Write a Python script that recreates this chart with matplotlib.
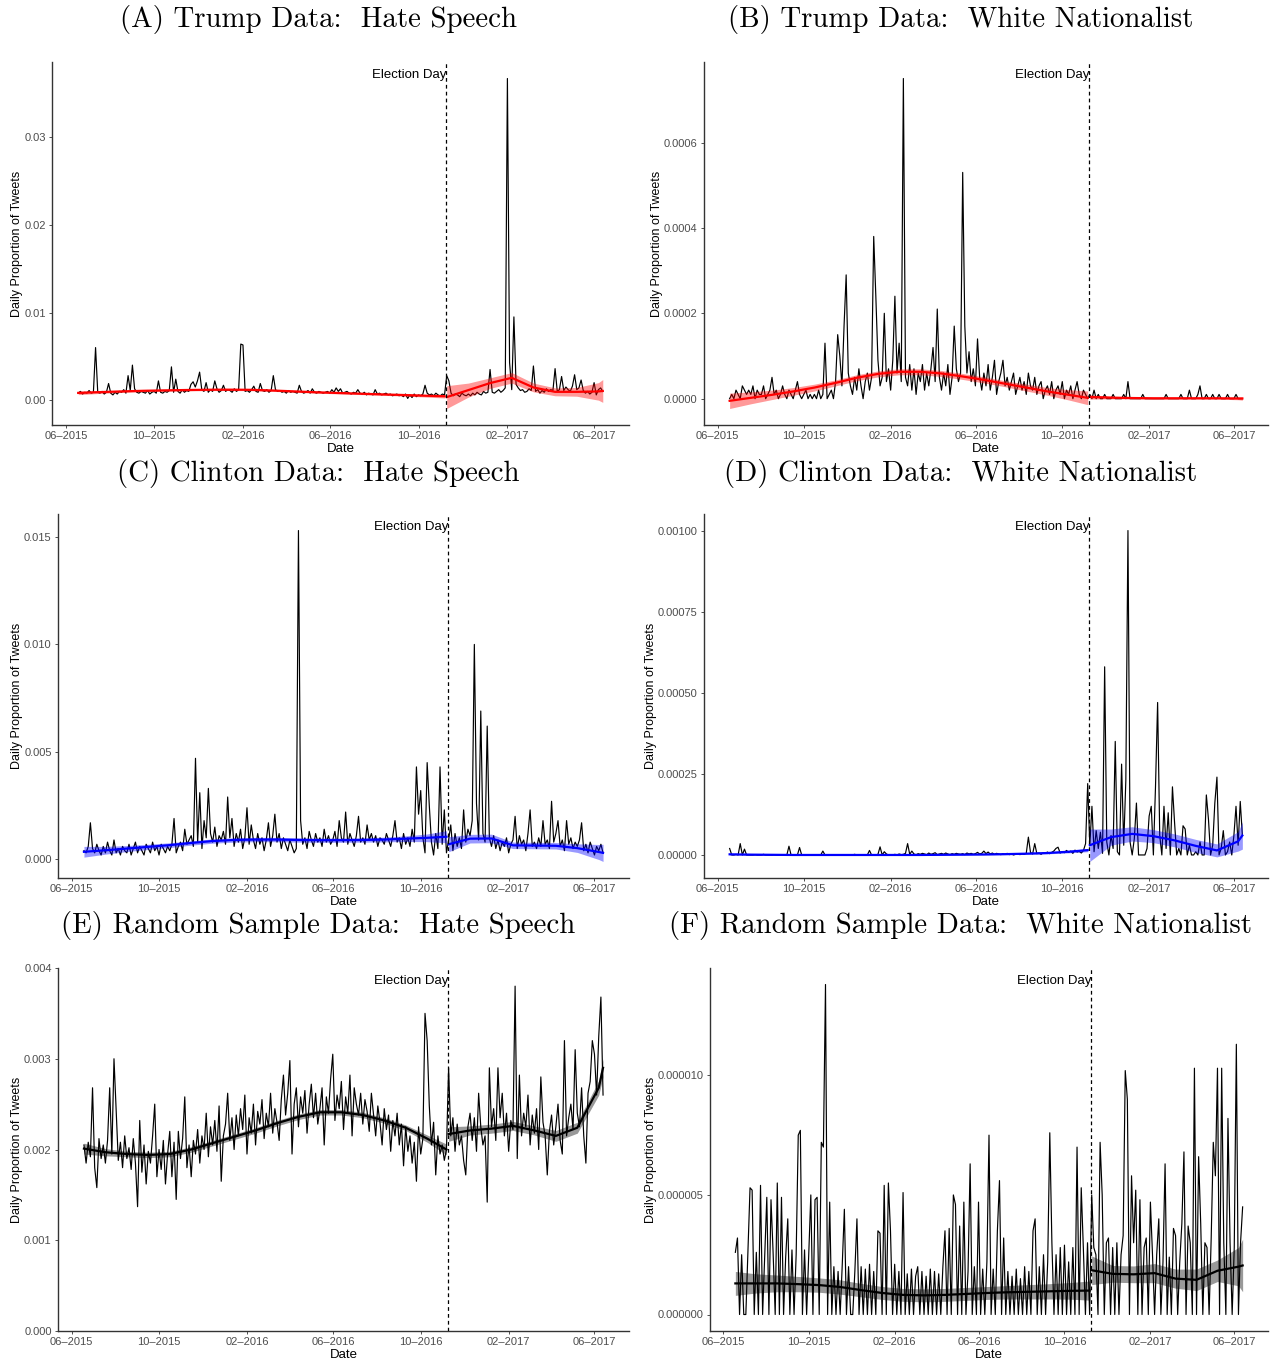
import numpy as np
import matplotlib
matplotlib.use('Agg')
import matplotlib.pyplot as plt
import matplotlib.dates as mdates

plt.rcParams['font.family'] = ['Liberation Sans', 'DejaVu Sans']

# one value every third day, 2015-06-18 .. 2017-06-13
dates = np.datetime64('2015-06-18') + np.arange(243) * 3
election = np.datetime64('2016-11-08')

# smoother knots (index into dates), fitted separately before / after the election
pre_knots = [0, 10, 20, 30, 40, 50, 60, 70, 80, 90, 100, 110, 120, 130, 140, 150, 160, 169]
post_knots = [170, 180, 190, 200, 210, 220, 230, 240, 242]

# (A) Trump hate speech, units of 1e-4
trump_hate = [
    8, 10, 7, 9, 8, 11, 8, 9, 60, 9,
    8, 10, 7, 9, 19, 8, 6, 9, 7, 10,
    9, 12, 8, 28, 11, 40, 13, 9, 8, 10,
    9, 8, 11, 7, 9, 10, 8, 22, 9, 8,
    10, 9, 11, 38, 9, 24, 10, 8, 12, 9,
    11, 10, 18, 21, 15, 22, 32, 12, 10, 20,
    9, 12, 10, 22, 13, 9, 11, 17, 10, 12,
    11, 9, 13, 10, 12, 64, 63, 10, 11, 9,
    12, 16, 10, 9, 19, 11, 10, 12, 9, 11,
    28, 12, 10, 11, 9, 10, 8, 11, 9, 10,
    9, 8, 17, 10, 8, 9, 11, 8, 13, 9,
    8, 10, 9, 8, 9, 10, 8, 12, 9, 14,
    10, 13, 8, 9, 10, 8, 7, 9, 8, 12,
    8, 7, 9, 6, 8, 7, 6, 12, 7, 8,
    6, 7, 8, 6, 7, 5, 6, 7, 5, 6,
    4, 7, 2, 6, 3, 7, 4, 6, 5, 7,
    17, 8, 6, 7, 5, 8, 6, 5, 7, 6,
    28, 22, 8, 5, 7, 6, 4, 8, 6, 5,
    7, 5, 8, 6, 9, 7, 6, 10, 8, 9,
    35, 9, 8, 10, 12, 9, 11, 14, 367, 43,
    12, 95, 18, 14, 11, 12, 9, 10, 13, 11,
    39, 10, 12, 8, 11, 9, 13, 10, 12, 11,
    36, 10, 12, 27, 11, 15, 12, 10, 16, 29,
    12, 14, 23, 11, 8, 10, 7, 9, 20, 6,
    12, 14, 10]
trump_hate_pre = [8.3, 9.2, 10, 10.7, 11.2, 11.6, 11.9, 12, 11.8, 11, 10, 9, 8.2, 7.4, 6.6, 5.9, 5.1, 4.5]
trump_hate_pre_se = [2, 1.5, 1.2, 1, 1, 1, 1, 1, 1, 1, 1, 1, 1, 1, 1, 1.2, 1.5, 2]
trump_hate_post = [3.5, 11.5, 19.5, 25.5, 14.5, 9.5, 9.5, 10, 10.5]
trump_hate_post_se = [13, 8, 6, 6, 5, 4.5, 5, 10, 13]

# (B) Trump white nationalist, units of 1e-5
trump_wn = [
    0, 1, 0, 2, 1, 0, 3, 2, 1, 2,
    1, 3, 0, 2, 1, 1, 3, 0, 1, 2,
    5, 1, 2, 0, 1, 3, 1, 0, 2, 1,
    0, 2, 4, 1, 0, 1, 2, 0, 1, 0,
    1, 0, 2, 0, 1, 13, 0, 1, 2, 0,
    4, 15, 10, 3, 17, 29, 6, 3, 1, 5,
    2, 7, 3, 0, 4, 6, 2, 5, 38, 24,
    9, 3, 5, 20, 4, 7, 2, 9, 24, 6,
    13, 4, 75, 5, 3, 8, 2, 7, 1, 6,
    4, 8, 2, 6, 3, 7, 12, 4, 21, 5,
    2, 6, 3, 8, 1, 5, 17, 7, 4, 6,
    53, 17, 6, 11, 4, 7, 3, 14, 5, 2,
    6, 3, 8, 2, 5, 9, 1, 4, 6, 9,
    3, 5, 2, 4, 6, 1, 3, 5, 2, 4,
    1, 6, 3, 2, 5, 1, 3, 4, 0, 2,
    3, 1, 4, 0, 2, 3, 1, 4, 0, 2,
    1, 3, 0, 2, 4, 1, 0, 2, 1, 0,
    1, 0, 2, 0, 1, 0, 0, 1, 0, 0,
    0, 1, 0, 0, 0, 0, 1, 0, 4, 0,
    0, 0, 0, 0, 0, 1, 0, 0, 0, 0,
    0, 0, 0, 0, 0, 0, 1, 0, 0, 0,
    0, 0, 0, 1, 0, 0, 0, 2, 0, 0,
    0, 1, 3, 0, 0, 1, 0, 0, 1, 0,
    0, 1, 0, 0, 0, 1, 0, 0, 0, 1,
    0, 0, 0]
trump_wn_pre = [-0.5, 0.2, 0.9, 1.7, 2.6, 3.7, 4.9, 5.8, 6.3, 6.3, 5.9, 5.2, 4.4, 3.5, 2.6, 1.7, 0.9, 0.2]
trump_wn_pre_se = [1.8, 1.4, 1.1, 0.9, 0.8, 0.7, 0.7, 0.7, 0.7, 0.7, 0.7, 0.7, 0.7, 0.7, 0.8, 0.9, 1.2, 1.6]
trump_wn_post = [0.4, 0.25, 0.15, 0.1, 0.1, 0.1, 0.1, 0.05, 0.05]
trump_wn_post_se = [0.5, 0.3, 0.2, 0.2, 0.2, 0.2, 0.2, 0.3, 0.4]

# (C) Clinton hate speech, units of 1e-4
clinton_hate = [
    4, 3, 6, 17, 5, 3, 7, 4, 2, 6,
    3, 8, 4, 2, 9, 3, 5, 2, 6, 4,
    3, 7, 2, 5, 8, 3, 6, 4, 2, 7,
    5, 3, 8, 4, 6, 2, 7, 5, 3, 6,
    4, 7, 19, 3, 6, 8, 4, 14, 7, 9,
    11, 6, 47, 8, 31, 5, 18, 10, 33, 12,
    8, 15, 6, 11, 9, 13, 7, 29, 10, 19,
    6, 12, 8, 14, 5, 10, 24, 7, 16, 9,
    5, 12, 7, 10, 4, 9, 17, 6, 11, 21,
    8, 12, 5, 10, 7, 4, 9, 6, 3, 5,
    153, 18, 7, 10, 5, 13, 9, 6, 12, 8,
    10, 6, 14, 8, 11, 7, 9, 13, 6, 18,
    10, 8, 22, 7, 12, 9, 6, 11, 20, 8,
    10, 7, 16, 9, 12, 8, 11, 6, 10, 9,
    7, 12, 9, 6, 11, 18, 8, 10, 5, 12,
    7, 10, 6, 14, 8, 43, 21, 32, 10, 3,
    45, 25, 8, 2, 12, 5, 43, 7, 23, 3,
    9, 16, 4, 12, 6, 10, 5, 23, 8, 14,
    11, 18, 100, 26, 9, 69, 12, 8, 62, 10,
    6, 11, 5, 9, 4, 8, 6, 10, 3, 7,
    9, 20, 5, 11, 7, 9, 4, 12, 23, 6,
    8, 5, 10, 6, 18, 7, 9, 5, 27, 8,
    12, 18, 6, 9, 4, 18, 7, 10, 5, 8,
    6, 9, 17, 4, 7, 3, 8, 5, 2, 6,
    4, 7, 3]
clinton_hate_pre = [3.5, 4.2, 5.0, 5.8, 6.6, 7.6, 8.5, 9.0, 9.2, 9.2, 9.0, 8.9, 8.9, 9.0, 9.2, 9.6, 10.0, 10.5]
clinton_hate_pre_se = [2.5, 1.8, 1.4, 1.2, 1.1, 1.0, 1.0, 1.0, 1.0, 1.0, 1.0, 1.0, 1.0, 1.0, 1.1, 1.3, 1.8, 2.8]
clinton_hate_post = [7.0, 9.6, 9.7, 6.5, 6.4, 6.3, 5.2, 3.4, 3.0]
clinton_hate_post_se = [3.5, 2.0, 2.0, 1.5, 1.5, 1.5, 2.0, 3.5, 4.0]

# (D) Clinton white nationalist, units of 1e-6
clinton_wn = [
    20, 0, 0, 2, 0, 35, 0, 18, 0, 0,
    0, 0, 1, 0, 0, 0, 2, 0, 0, 0,
    0, 1, 0, 0, 0, 0, 0, 0, 27, 0,
    0, 0, 0, 23, 0, 0, 0, 1, 0, 0,
    0, 0, 0, 0, 12, 0, 0, 0, 1, 0,
    0, 0, 0, 0, 1, 0, 0, 0, 0, 2,
    0, 0, 0, 1, 0, 0, 14, 0, 0, 0,
    2, 25, 0, 10, 3, 0, 1, 0, 2, 0,
    3, 1, 2, 5, 35, 2, 12, 3, 1, 4,
    2, 5, 3, 1, 6, 2, 4, 7, 1, 3,
    5, 2, 6, 3, 1, 4, 2, 5, 3, 2,
    4, 1, 6, 3, 5, 2, 4, 8, 3, 5,
    12, 4, 9, 3, 6, 2, 5, 3, 1, 4,
    2, 5, 1, 3, 0, 2, 4, 1, 3, 2,
    5, 55, 8, 3, 35, 4, 6, 2, 7, 5,
    9, 4, 8, 12, 20, 24, 6, 10, 7, 14,
    8, 12, 5, 15, 9, 11, 6, 14, 35, 220,
    30, 150, 10, 75, 20, 70, 5, 580, 40, 0,
    60, 20, 350, 10, 0, 280, 30, 230, 1000, 40,
    0, 50, 160, 0, 0, 0, 0, 20, 120, 150,
    0, 210, 470, 60, 0, 150, 20, 130, 0, 210,
    100, 0, 20, 0, 90, 80, 0, 30, 0, 0,
    10, 0, 40, 0, 0, 185, 110, 0, 30, 160,
    240, 0, 20, 75, 0, 10, 40, 0, 60, 150,
    30, 165, 60]
clinton_wn_pre = [2, 1, 0.5, 0, 0, 0, 0, 0, 0, 0, 0.5, 1, 1.5, 2.5, 4, 6, 10, 15]
clinton_wn_pre_se = [2, 1.5, 1, 1, 1, 1, 1, 1, 1, 1, 1, 1, 1, 1.5, 2, 2.5, 3.5, 5]
clinton_wn_post = [30, 55, 65, 58, 45, 28, 14, 42, 60]
clinton_wn_post_se = [50, 25, 22, 20, 20, 20, 20, 30, 42]

# (E) random sample hate speech, units of 1e-5
random_hate = [
    205, 185, 208, 192, 268, 180, 158, 212, 190, 205,
    185, 210, 268, 195, 300, 245, 188, 208, 180, 215,
    190, 202, 178, 212, 185, 137, 232, 175, 205, 162,
    198, 185, 215, 250, 170, 200, 178, 210, 162, 195,
    220, 170, 208, 145, 220, 190, 212, 258, 180, 205,
    170, 210, 195, 222, 185, 215, 200, 240, 192, 225,
    205, 232, 198, 248, 165, 215, 228, 262, 210, 235,
    200, 238, 215, 245, 222, 260, 195, 235, 218, 250,
    205, 242, 228, 255, 212, 240, 225, 262, 218, 245,
    230, 210, 255, 282, 238, 262, 298, 195, 250, 268,
    225, 258, 240, 265, 218, 250, 272, 235, 262, 228,
    245, 268, 205, 258, 240, 278, 305, 232, 260, 245,
    275, 222, 258, 240, 282, 215, 268, 250, 238, 262,
    228, 255, 242, 220, 262, 238, 215, 248, 230, 205,
    245, 222, 238, 198, 232, 215, 240, 205, 228, 182,
    225, 198, 215, 185, 208, 165, 225, 195, 212, 350,
    320, 248, 205, 230, 172, 215, 195, 205, 188, 200,
    290, 215, 235, 198, 228, 205, 215, 188, 172, 225,
    240, 210, 235, 198, 262, 225, 205, 215, 142, 290,
    225, 245, 210, 290, 235, 262, 215, 240, 198, 232,
    222, 380, 190, 282, 215, 240, 225, 260, 205, 238,
    218, 245, 200, 280, 230, 215, 172, 220, 238, 205,
    225, 250, 210, 195, 320, 215, 235, 250, 222, 310,
    240, 225, 268, 215, 185, 262, 275, 320, 305, 260,
    325, 368, 260]
random_hate_pre = [201, 197, 195, 194, 195, 200, 207, 214, 221, 229, 236, 241, 241, 238, 232, 224, 212, 200]
random_hate_pre_se = [6, 4, 3, 3, 3, 3, 3, 3, 3, 3, 3, 3, 3, 3, 3, 3, 4, 6]
random_hate_post = [217, 221, 223, 226, 221, 215, 224, 268, 290]
random_hate_post_se = [8, 5, 5, 5, 5, 6, 6, 8, 10]

# (F) random sample white nationalist, units of 1e-7
random_wn = [
    26, 32, 0, 25, 0, 0, 26, 53, 52, 0,
    26, 0, 54, 0, 25, 49, 0, 48, 26, 0,
    55, 0, 49, 0, 24, 40, 0, 27, 0, 25,
    75, 77, 0, 27, 0, 25, 50, 0, 48, 49,
    0, 72, 70, 138, 0, 47, 0, 20, 0, 18,
    0, 21, 44, 0, 20, 0, 0, 18, 40, 0,
    20, 0, 19, 0, 21, 0, 18, 0, 35, 34,
    0, 54, 0, 55, 35, 0, 21, 0, 18, 0,
    51, 0, 17, 0, 19, 0, 16, 20, 0, 18,
    0, 16, 0, 19, 0, 18, 0, 17, 0, 20,
    35, 0, 36, 0, 50, 46, 0, 37, 0, 47,
    0, 18, 63, 0, 20, 0, 47, 0, 19, 0,
    22, 75, 0, 19, 0, 35, 56, 0, 32, 0,
    18, 0, 16, 0, 19, 0, 15, 0, 20, 0,
    18, 0, 35, 40, 0, 20, 0, 25, 0, 22,
    76, 30, 0, 25, 0, 28, 0, 29, 0, 22,
    0, 28, 0, 70, 0, 53, 28, 0, 30, 0,
    50, 28, 25, 0, 72, 50, 0, 30, 32, 0,
    28, 0, 30, 0, 25, 33, 102, 90, 0, 58,
    30, 52, 0, 48, 0, 28, 32, 0, 47, 25,
    0, 25, 40, 0, 22, 63, 0, 24, 0, 36,
    33, 0, 22, 38, 68, 0, 37, 30, 0, 103,
    0, 66, 38, 0, 30, 28, 0, 32, 72, 58,
    103, 0, 103, 30, 0, 82, 30, 0, 28, 113,
    0, 30, 45]
random_wn_pre = [13, 13, 13, 12.7, 12.3, 11.5, 10.2, 9, 8.2, 8, 8.2, 8.6, 9, 9.3, 9.5, 9.7, 9.9, 10]
random_wn_pre_se = [5, 4, 3.5, 3.2, 3, 3, 2.8, 2.7, 2.7, 2.7, 2.7, 2.7, 2.7, 2.8, 3, 3.2, 3.5, 4]
random_wn_post = [18.5, 17, 16.8, 17.3, 15, 14.5, 18.3, 20, 20.5]
random_wn_post_se = [6, 3.5, 3.5, 4, 4, 4.5, 4.5, 8, 11]

titles = ['(A) Trump Data:  Hate Speech', '(B) Trump Data:  White Nationalist',
          '(C) Clinton Data:  Hate Speech', '(D) Clinton Data:  White Nationalist',
          '(E) Random Sample Data:  Hate Speech', '(F) Random Sample Data:  White Nationalist']

panels = [
    (trump_hate, 1e-4, trump_hate_pre, trump_hate_pre_se, trump_hate_post, trump_hate_post_se,
     'red', [0, 0.01, 0.02, 0.03], '%.2f'),
    (trump_wn, 1e-5, trump_wn_pre, trump_wn_pre_se, trump_wn_post, trump_wn_post_se,
     'red', [0, 0.0002, 0.0004, 0.0006], '%.4f'),
    (clinton_hate, 1e-4, clinton_hate_pre, clinton_hate_pre_se, clinton_hate_post, clinton_hate_post_se,
     'blue', [0, 0.005, 0.010, 0.015], '%.3f'),
    (clinton_wn, 1e-6, clinton_wn_pre, clinton_wn_pre_se, clinton_wn_post, clinton_wn_post_se,
     'blue', [0, 0.00025, 0.0005, 0.00075, 0.001], '%.5f'),
    (random_hate, 1e-5, random_hate_pre, random_hate_pre_se, random_hate_post, random_hate_post_se,
     'black', [0, 0.001, 0.002, 0.003, 0.004], '%.3f'),
    (random_wn, 1e-7, random_wn_pre, random_wn_pre_se, random_wn_post, random_wn_post_se,
     'black', [0, 0.000005, 0.00001], '%.6f'),
]

# panel boxes in pixels: left, top, right, bottom
boxes = [(52, 62, 629, 425), (704, 62, 1268, 425),
         (58, 514, 629, 878), (704, 514, 1268, 878),
         (58, 968, 629, 1331), (710, 968, 1268, 1331)]
# right edge of the rotated y label, pixels
ylabel_x = [23, 663, 23, 657, 23, 657]
title_y = [20, 473, 926]

W, H = 1274, 1359
fig = plt.figure(figsize=(W / 100, H / 100), dpi=100)

xticks = [np.datetime64(d) for d in ['2015-06-01', '2015-10-01', '2016-02-01', '2016-06-01',
                                     '2016-10-01', '2017-02-01', '2017-06-01']]

for i, (vals, scale, pre, pre_se, post, post_se, col, yt, fmt) in enumerate(panels):
    l, t, r, b = boxes[i]
    ax = fig.add_axes([l / W, 1 - b / H, (r - l) / W, (b - t) / H])
    y = np.array(vals, dtype=float) * scale
    ax.plot(dates[:len(y)], y, color='black', lw=0.85, zorder=2)

    for knots, mid, se in [(pre_knots, pre, pre_se), (post_knots, post, post_se)]:
        kd = dates[knots]
        m = np.array(mid) * scale
        s = np.array(se) * scale
        ax.fill_between(kd, m - s, m + s, color=col, alpha=0.4, lw=0, zorder=3)
        ax.plot(kd, m, color=col, lw=1.6, zorder=4)

    ax.axvline(election, color='black', lw=0.9, ls=(0, (3, 2.5)), zorder=5)
    ax.text(election, 0.964, 'Election Day', transform=ax.get_xaxis_transform(),
            ha='right', va='center', fontsize=9.5, color='black')

    ax.margins(x=0.05, y=0.05)
    ax.set_xticks(xticks)
    ax.xaxis.set_major_formatter(mdates.DateFormatter('%m–%Y'))
    ax.set_yticks(yt)
    ax.set_yticklabels([fmt % v for v in yt])
    for s in ['top', 'right']:
        ax.spines[s].set_visible(False)
    for s in ['left', 'bottom']:
        ax.spines[s].set_color('#333333')
        ax.spines[s].set_linewidth(1.0)
    ax.tick_params(direction='out', length=2.5, width=0.6, color='#333333',
                   labelsize=8, labelcolor='#4D4D4D', pad=2)
    ax.set_xlabel('Date', fontsize=9.5, labelpad=1)
    ax.set_ylabel('Daily Proportion of Tweets', fontsize=9)
    ax.yaxis.set_label_coords((ylabel_x[i] - l) / (r - l), 0.5)

    cx = 0.25 if i % 2 == 0 else 0.754
    fig.text(cx, 1 - title_y[i // 2] / H, titles[i], ha='center', va='center',
             family='cmr10', fontsize=20.8)

fig.savefig('out.png', dpi=100)
